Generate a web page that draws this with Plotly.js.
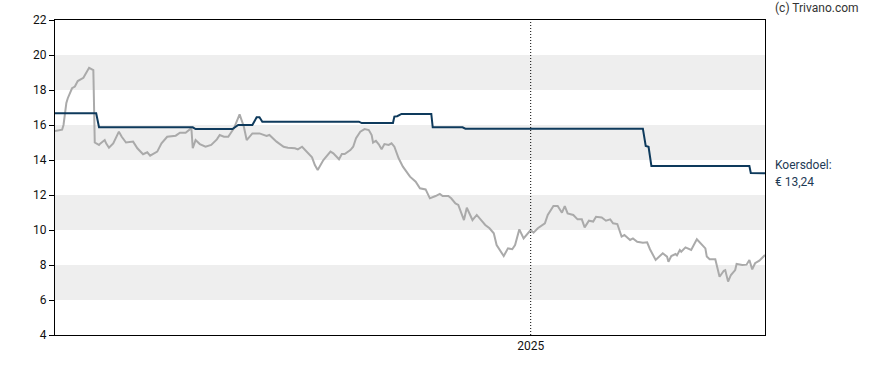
<!DOCTYPE html>
<html>
<head>
<meta charset="utf-8">
<script src="https://cdn.plot.ly/plotly-3.0.1.min.js"></script>
<style>
html,body{margin:0;padding:0;background:#fff;}
#chart{width:888px;height:370px;}
</style>
</head>
<body>
<div id="chart"></div>
<script>
var priceDates = [
'2024-02-01','2024-02-06','2024-02-07','2024-02-09','2024-02-10','2024-02-13','2024-02-15','2024-02-17','2024-02-21','2024-02-23',
'2024-02-25','2024-02-28','2024-02-29','2024-03-03','2024-03-04','2024-03-07','2024-03-08','2024-03-10','2024-03-13','2024-03-17',
'2024-03-19','2024-03-22','2024-03-27','2024-03-30','2024-04-03','2024-04-06','2024-04-08','2024-04-13','2024-04-16','2024-04-20',
'2024-04-26','2024-04-29','2024-05-03','2024-05-06','2024-05-07','2024-05-08','2024-05-10','2024-05-13','2024-05-17','2024-05-21',
'2024-05-25','2024-05-27','2024-05-30','2024-06-02','2024-06-06','2024-06-10','2024-06-13','2024-06-15','2024-06-19','2024-06-24',
'2024-06-29','2024-07-01','2024-07-06','2024-07-11','2024-07-14','2024-07-19','2024-07-21','2024-07-24','2024-07-27','2024-07-31',
'2024-08-02','2024-08-04','2024-08-08','2024-08-13','2024-08-15','2024-08-19','2024-08-21','2024-08-23','2024-08-27','2024-08-29',
'2024-08-31','2024-09-03','2024-09-06','2024-09-09','2024-09-11','2024-09-12','2024-09-14','2024-09-16','2024-09-18','2024-09-20',
'2024-09-23','2024-09-25','2024-09-27','2024-09-30','2024-10-03','2024-10-07','2024-10-08','2024-10-12','2024-10-15','2024-10-19',
'2024-10-22','2024-10-26','2024-10-29','2024-10-31','2024-11-04','2024-11-06','2024-11-09','2024-11-11','2024-11-13','2024-11-15',
'2024-11-17','2024-11-19','2024-11-21','2024-11-24','2024-11-27','2024-11-30','2024-12-03','2024-12-06','2024-12-08','2024-12-11',
'2024-12-13','2024-12-16','2024-12-19','2024-12-21','2024-12-24','2024-12-27','2024-12-29','2025-01-01','2025-01-03','2025-01-06',
'2025-01-11','2025-01-13','2025-01-17','2025-01-20','2025-01-23','2025-01-25','2025-01-27','2025-01-31','2025-02-03','2025-02-06',
'2025-02-08','2025-02-11','2025-02-14','2025-02-16','2025-02-20','2025-02-23','2025-02-26','2025-02-28','2025-03-03','2025-03-06',
'2025-03-08','2025-03-12','2025-03-14','2025-03-17','2025-03-21','2025-03-24','2025-03-26','2025-03-30','2025-04-04','2025-04-07',
'2025-04-08','2025-04-10','2025-04-13','2025-04-14','2025-04-16','2025-04-17','2025-04-20','2025-04-22','2025-04-24','2025-04-28',
'2025-05-01','2025-05-04','2025-05-05','2025-05-07','2025-05-11','2025-05-14','2025-05-17','2025-05-18','2025-05-20','2025-05-22',
'2025-05-25','2025-05-26','2025-05-30','2025-06-02','2025-06-04','2025-06-06','2025-06-08','2025-06-11','2025-06-15'
];
var priceValues = [
15.66,15.73,16.0,17.26,17.53,18.1,18.2,18.51,18.7,18.95,
19.27,19.14,15.0,14.86,14.95,15.14,14.95,14.7,14.95,15.62,
15.33,15.0,15.05,14.67,14.33,14.44,14.25,14.48,14.95,15.33,
15.39,15.56,15.56,15.75,15.87,14.67,15.14,14.91,14.76,14.86,
15.18,15.43,15.33,15.33,15.81,16.61,15.9,15.14,15.52,15.52,
15.37,15.43,15.05,14.76,14.7,14.67,14.61,14.76,14.48,14.15,
13.71,13.43,14.0,14.48,14.38,14.04,14.34,14.34,14.57,14.76,
15.24,15.62,15.77,15.71,15.43,14.99,15.1,14.9,14.61,14.91,
14.86,14.95,14.76,14.1,13.62,13.14,13.05,12.76,12.38,12.32,
11.81,11.94,12.06,11.94,11.94,11.81,11.52,11.43,11.05,10.57,
11.27,10.95,10.57,10.86,10.57,10.29,10.1,9.81,9.14,8.76,
8.51,8.95,8.9,9.14,10.04,9.52,9.71,10.0,9.85,10.1,
10.38,10.86,11.37,11.37,10.99,11.37,10.95,10.86,10.61,10.61,
10.15,10.53,10.48,10.76,10.72,10.53,10.61,10.38,10.34,9.62,
9.71,9.43,9.52,9.33,9.27,9.3,8.9,8.29,8.67,8.48,
8.19,8.51,8.63,8.55,8.86,8.76,9.01,8.95,8.86,9.47,
9.2,8.95,8.48,8.33,8.33,7.33,7.67,7.71,7.05,7.43,
7.71,8.06,8.0,8.02,8.29,7.75,8.1,8.25,8.57
];
var targetDates = [
'2024-02-01','2024-03-01','2024-03-03','2024-05-08','2024-05-10','2024-06-05','2024-06-09','2024-06-19','2024-06-22','2024-06-24',
'2024-06-26','2024-09-02','2024-09-04','2024-09-26','2024-09-27','2024-09-29','2024-10-02','2024-10-23','2024-10-24','2024-11-14',
'2024-11-16','2025-03-21','2025-03-23','2025-03-25','2025-03-27','2025-06-04','2025-06-05','2025-06-15'
];
var targetValues = [
16.67,16.67,15.87,15.87,15.77,15.77,16.0,16.0,16.44,16.44,
16.19,16.19,16.11,16.11,16.48,16.5,16.63,16.63,15.87,15.87,
15.79,15.79,14.8,14.75,13.66,13.66,13.26,13.24
];
var yTicks = [4,6,8,10,12,14,16,18,20,22];
var bandRanges = [[6,8],[10,12],[14,16],[18,20]];
var xTickVals = ['2025-01-01'];
var xTickText = ['2025'];
var targetLabel = 'Koersdoel:';
var targetValueLabel = '€ 13,24';
var lastTarget = targetValues[targetValues.length-1];

var shapes = bandRanges.map(function(b){
  return {type:'rect', xref:'paper', x0:0, x1:1, yref:'y', y0:b[0], y1:b[1],
          fillcolor:'#eeeeee', line:{width:0}, layer:'below'};
});
shapes.push({type:'line', xref:'x', x0:xTickVals[0], x1:xTickVals[0], yref:'paper', y0:0, y1:1,
             line:{color:'#000', width:1, dash:'1px,2px'}, layer:'above'});

var traces = [
  {x:priceDates, y:priceValues, type:'scatter', mode:'lines',
   line:{color:'#aaaaaa', width:2}, hoverinfo:'skip'},
  {x:targetDates, y:targetValues, type:'scatter', mode:'lines',
   line:{color:'#0e3a5c', width:2}, hoverinfo:'skip'}
];

var layout = {
  width:888, height:370,
  margin:{l:55, r:123, t:20, b:35, pad:0},
  paper_bgcolor:'#fff', plot_bgcolor:'rgba(0,0,0,0)',
  showlegend:false,
  font:{family:'Roboto, Arial, sans-serif', size:12, color:'#111'},
  xaxis:{type:'date', range:['2024-02-01','2025-06-15'], tickvals:xTickVals, ticktext:xTickText,
         showgrid:false, zeroline:false, showline:true, mirror:true, linecolor:'#000', linewidth:1,
         ticks:'', tickfont:{size:12, color:'#111'}},
  yaxis:{range:[4,22], tickvals:yTicks, showgrid:false, zeroline:false, showline:true, mirror:true,
         linecolor:'#000', linewidth:1, ticks:'outside', ticklen:5, tickcolor:'#000',
         tickfont:{size:12, color:'#111'}},
  shapes:shapes,
  annotations:[
    {xref:'paper', yref:'paper', x:1.0113, y:1, yshift:12, xanchor:'left', yanchor:'middle',
     text:'(c) Trivano.com', showarrow:false, font:{size:12, color:'#333'}},
    {xref:'paper', yref:'y', x:1.0113, y:lastTarget, yshift:8.5, xanchor:'left', yanchor:'middle',
     text:targetLabel, showarrow:false, font:{size:12, color:'#1e3a55'}},
    {xref:'paper', yref:'y', x:1.0113, y:lastTarget, yshift:-8.5, xanchor:'left', yanchor:'middle',
     text:targetValueLabel, showarrow:false, font:{size:12, color:'#1e3a55'}}
  ]
};

Plotly.newPlot('chart', traces, layout, {staticPlot:true, displayModeBar:false});
</script>
</body>
</html>
